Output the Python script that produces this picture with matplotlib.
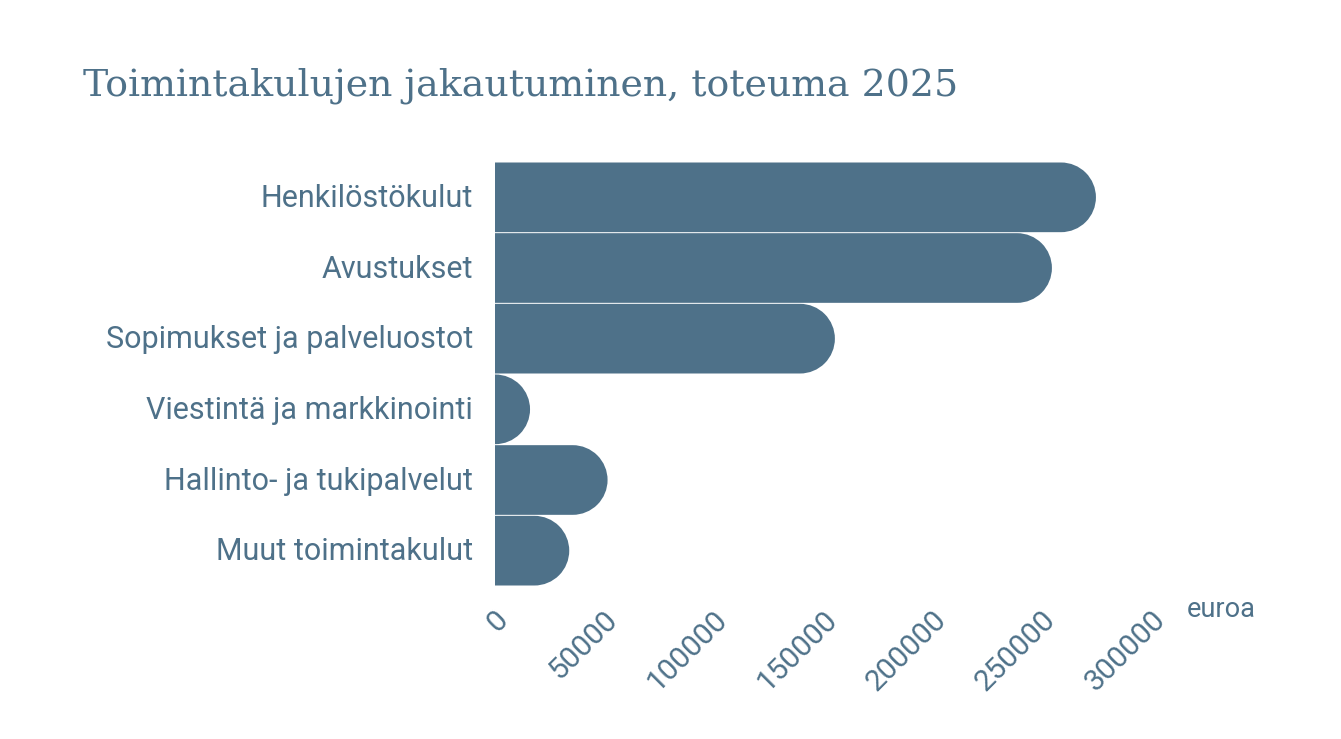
import matplotlib
matplotlib.use('Agg')
import matplotlib.pyplot as plt
from matplotlib.path import Path
from matplotlib.patches import PathPatch
from matplotlib.transforms import Affine2D, ScaledTranslation

# data
categories = ['Henkilöstökulut', 'Avustukset', 'Sopimukset ja palveluostot',
              'Viestintä ja markkinointi', 'Hallinto- ja tukipalvelut',
              'Muut toimintakulut']
values = [274400, 254300, 155200, 16000, 51400, 33900]
xticks = [0, 50000, 100000, 150000, 200000, 250000, 300000]

color = '#4e7189'
W, H = 1341, 739
DPI = 100

fig = plt.figure(figsize=(W / DPI, H / DPI), dpi=DPI)
# plot area in pixels: x 495..1152, y 162..586
ax = fig.add_axes([495 / W, 1 - 586 / H, (1152 - 495) / W, (586 - 162) / H])
ax.set_xlim(0, 300000)
ax.set_ylim(len(categories) - 0.5, -0.5)

# x data units per pixel, used to keep the round ends circular
x_per_px = 300000 / (1152 - 495)
bar_px = (586 - 162) / len(categories)
gap = 1.0 / bar_px  # thin white line between bars

for i, v in enumerate(values):
    top = i - 0.5 + gap / 2
    bot = i + 0.5 - gap / 2
    ry = (bot - top) / 2
    rx = min(ry * bar_px * x_per_px, v)
    arc = Path.arc(-90, 90)
    arc = arc.transformed(Affine2D().scale(rx, ry).translate(v - rx, i))
    verts = [(0, top), (v - rx, top)] + list(arc.vertices[1:]) + [(0, bot), (0, top)]
    codes = [Path.MOVETO, Path.LINETO] + list(arc.codes[1:]) + [Path.LINETO, Path.CLOSEPOLY]
    ax.add_patch(PathPatch(Path(verts, codes), facecolor=color, edgecolor='none'))

for s in ax.spines.values():
    s.set_visible(False)

ax.set_yticks(range(len(categories)))
ax.set_yticklabels(categories, fontsize=22, color=color, family='Roboto')
ax.tick_params(axis='y', length=0, pad=16)
for lab in ax.get_yticklabels():
    lab.set_transform(lab.get_transform() + ScaledTranslation(0, 2 / DPI, fig.dpi_scale_trans))

ax.set_xticks(xticks)
ax.set_xticklabels([str(t) for t in xticks], fontsize=21.5, color=color,
                   family='Roboto', rotation=45, rotation_mode='anchor',
                   ha='right', va='center')
ax.tick_params(axis='x', length=0, pad=21)
for lab in ax.get_xticklabels():
    lab.set_transform(lab.get_transform() + ScaledTranslation(9 / DPI, 0, fig.dpi_scale_trans))

ax.text(1187 / W, 1 - 617 / H, 'euroa', transform=fig.transFigure, fontsize=19.5,
        color=color, family='Roboto', ha='left', va='baseline')

fig.text(83 / W, 1 - 96 / H, 'Toimintakulujen jakautuminen, toteuma 2025',
         fontsize=27.3, color=color, family='DejaVu Serif', ha='left', va='baseline')

fig.savefig('out.png', dpi=DPI, facecolor='white')
